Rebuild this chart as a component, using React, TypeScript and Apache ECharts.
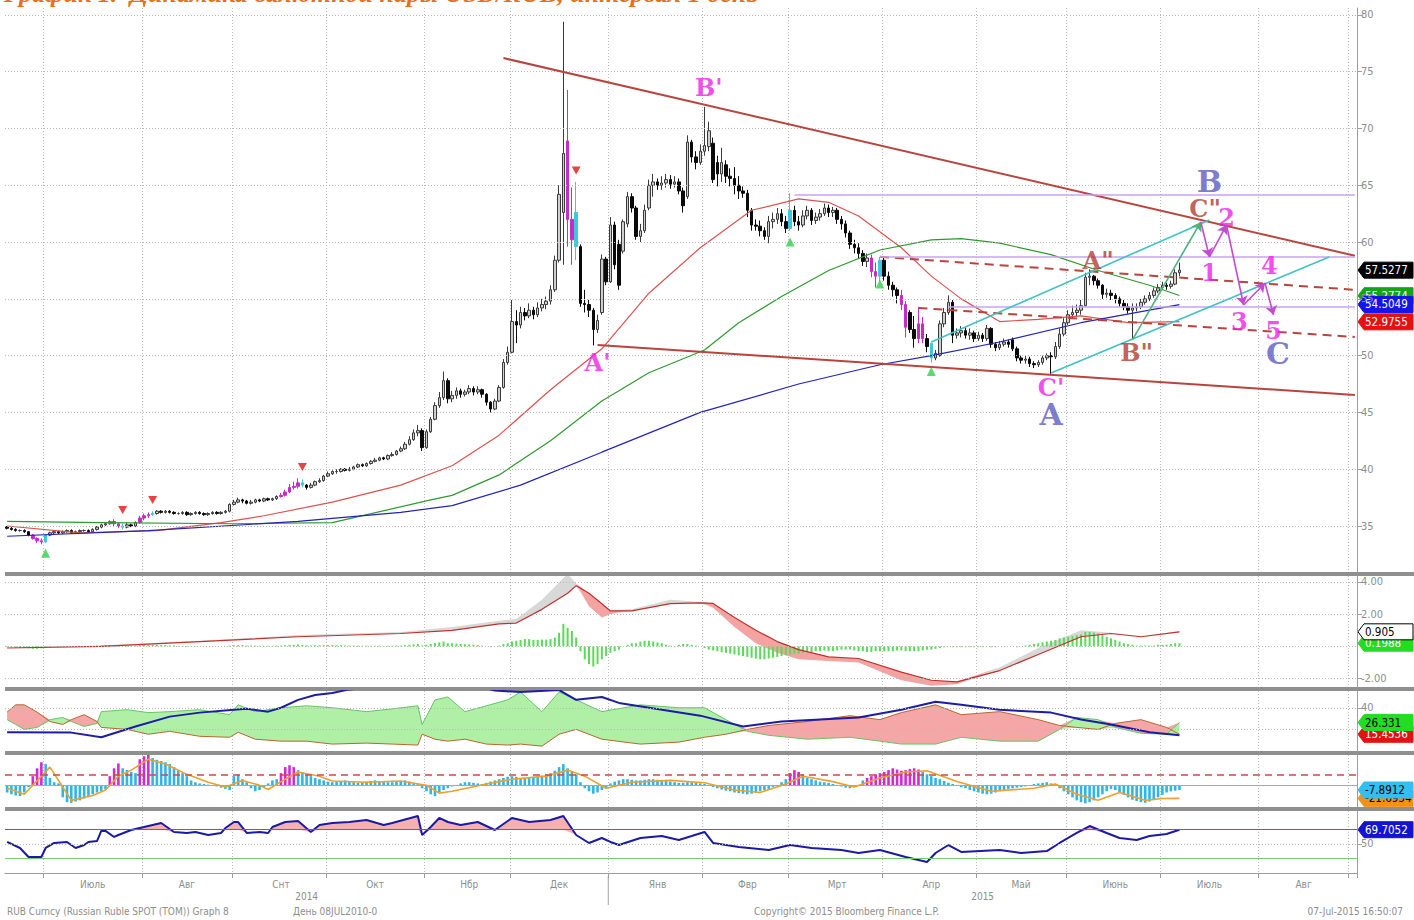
import React, { useEffect, useRef } from 'react';
import * as echarts from 'echarts';

// ---------- categories / labels ----------
const MONTH_NAMES = ['Янв', 'Фвр', 'Мрт', 'Апр', 'Май', 'Июнь', 'Июль', 'Авг', 'Снт', 'Окт', 'Нбр', 'Дек'];
const FIRST_DAY = Date.UTC(2014, 5, 18);
const DAY_SLOTS = 316;
const TITLE = 'График 1.  Динамика валютной пары USD/RUB, интервал 1 день';
const FOOTER_LEFT = 'RUB Curncy (Russian Ruble SPOT (TOM)) Graph 8';
const FOOTER_MID = 'День 08JUL2010-0';
const FOOTER_COPY = 'Copyright© 2015 Bloomberg Finance L.P.';
const FOOTER_TIME = '07-Jul-2015 16:50:07';

const PRICE_TICKS = [35, 40, 45, 50, 55, 60, 65, 70, 75, 80];
const MACD_TICKS = [-2, 2, 4];
const DMI_TICKS = [40];
const RSI_TICKS = [50];

// ---------- daily candles [open, close, low, high] ----------
const candles = [
  [34.9,34.8,34.7,35.0],[34.8,34.7,34.6,34.9],[34.7,34.6,34.5,34.8],[34.6,34.6,34.5,34.7],[34.6,34.5,34.4,34.7],[34.5,34.2,34.1,34.5],[34.2,33.9,33.8,34.3],[33.9,33.7,33.5,34.0],[33.7,33.6,33.4,33.9],
  [33.6,34.2,33.5,34.3],[34.2,34.4,34.1,34.5],[34.4,34.5,34.3,34.6],[34.5,34.4,34.3,34.6],[34.4,34.5,34.3,34.6],[34.5,34.6,34.4,34.7],[34.6,34.4,34.3,34.7],[34.4,34.5,34.3,34.6],[34.5,34.6,34.4,34.7],[34.6,34.6,34.5,34.7],[34.6,34.5,34.4,34.7],[34.5,34.7,34.4,34.8],[34.7,34.9,34.6,35.0],[34.9,35.1,34.8,35.2],[35.1,35.2,35.0,35.3],[35.2,35.4,35.1,35.5],[35.4,35.2,35.0,35.6],[35.2,35.0,34.8,35.3],[35.0,34.9,34.7,35.2],[34.9,35.1,34.8,35.3],[35.1,35.0,34.9,35.2],[35.0,35.3,34.9,35.4],[35.3,35.7,35.2,35.9],
  [35.7,35.9,35.5,36.1],[35.9,36.0,35.7,36.2],[36.0,36.1,35.9,36.3],[36.1,36.3,36.0,36.4],[36.3,36.2,36.1,36.4],[36.2,36.3,36.1,36.4],[36.3,36.2,36.1,36.4],[36.2,36.1,36.0,36.3],[36.1,36.1,36.0,36.2],[36.1,36.2,36.0,36.3],[36.2,36.0,35.9,36.3],[36.0,36.1,35.9,36.2],[36.1,36.2,36.0,36.3],[36.2,36.1,36.0,36.3],[36.1,36.0,35.9,36.2],[36.0,36.1,35.9,36.2],[36.1,36.2,36.0,36.3],[36.2,36.1,36.0,36.3],[36.1,36.2,36.0,36.3],[36.2,36.3,36.1,36.4],[36.3,36.9,36.2,37.0],
  [36.9,37.1,36.8,37.3],[37.1,37.3,37.0,37.5],[37.3,37.2,37.0,37.4],[37.2,37.0,36.9,37.3],[37.0,37.1,36.9,37.3],[37.1,37.3,37.0,37.4],[37.3,37.2,37.1,37.4],[37.2,37.4,37.1,37.5],[37.4,37.3,37.2,37.5],[37.3,37.4,37.2,37.5],[37.4,37.6,37.3,37.7],[37.6,37.7,37.5,37.9],[37.7,38.0,37.6,38.2],[38.0,38.4,37.9,38.7],[38.4,38.5,38.2,38.9],[38.5,38.8,38.3,39.2],[38.8,38.6,38.4,39.1],[38.6,38.4,38.2,38.7],[38.4,38.6,38.3,38.8],[38.6,38.9,38.5,39.0],[38.9,39.0,38.8,39.2],[39.0,39.4,38.9,39.5],
  [39.4,39.6,39.3,39.8],[39.6,39.8,39.5,39.9],[39.8,39.8,39.6,40.0],[39.8,40.0,39.7,40.1],[40.0,39.9,39.8,40.1],[39.9,40.0,39.8,40.2],[40.0,40.2,39.9,40.3],[40.2,40.4,40.1,40.5],[40.4,40.3,40.2,40.5],[40.3,40.5,40.2,40.6],[40.5,40.7,40.4,40.8],[40.7,40.8,40.6,41.0],[40.8,41.0,40.7,41.1],[41.0,40.9,40.8,41.1],[40.9,41.2,40.8,41.3],[41.2,41.3,41.1,41.5],[41.3,41.6,41.2,41.7],[41.6,41.8,41.5,42.0],[41.8,42.2,41.7,42.4],[42.2,42.6,42.1,42.9],[42.6,43.2,42.5,43.5],[43.2,43.4,42.9,43.9],[43.4,41.9,41.6,43.6],
  [41.9,43.3,41.8,43.5],[43.3,44.4,43.2,44.6],[44.4,45.6,44.3,45.9],[45.6,46.3,45.4,46.8],[46.3,47.8,46.1,48.6],[47.8,46.2,45.8,48.0],[46.2,46.5,45.9,46.9],[46.5,46.9,46.2,47.2],[46.9,46.6,46.3,47.1],[46.6,46.8,46.4,47.0],[46.8,47.1,46.6,47.4],[47.1,46.8,46.5,47.3],[46.8,47.0,46.6,47.3],[47.0,46.6,46.3,47.1],[46.6,45.9,45.6,46.7],[45.9,45.3,45.0,46.0],[45.3,46.0,45.2,46.2],[46.0,47.2,45.9,47.4],[47.2,49.4,47.1,49.7],[49.4,50.3,49.2,50.8],
  [50.3,53.0,50.2,54.9],[53.0,52.7,51.1,54.0],[52.7,53.8,52.4,54.3],[53.8,53.5,53.1,54.2],[53.5,54.0,53.3,54.6],[54.0,53.6,53.2,54.3],[53.6,54.2,53.4,54.7],[54.2,54.5,53.9,55.0],[54.5,54.8,54.1,55.2],[54.8,55.8,54.5,56.2],[55.8,58.4,55.6,58.8],[58.4,64.2,58.2,65.0],[62.6,67.8,58.0,79.4],[68.9,62.0,59.6,73.4],[62.0,60.2,58.0,64.8],[62.6,59.6,58.4,65.3],[59.6,54.6,54.3,59.8],[54.6,54.5,53.8,55.8],[54.5,54.0,53.4,54.9],[54.0,52.3,50.9,54.2],[52.3,53.1,52.0,53.6],[53.8,58.5,53.6,58.9],[58.5,56.5,56.2,58.7],
  [56.5,61.5,56.4,62.2],[61.5,58.0,57.6,61.8],[59.8,56.2,55.8,60.2],[59.2,61.8,59.0,62.0],[61.6,64.0,61.3,64.4],[64.0,63.0,62.6,64.3],[63.0,60.5,60.2,63.2],[60.5,61.0,60.0,61.6],[61.0,62.8,60.8,63.3],[63.0,65.0,62.8,65.5],[65.0,65.3,64.0,66.0],[65.3,65.0,64.6,65.6],[65.0,65.2,64.6,65.8],[65.2,65.5,64.8,66.0],[65.5,65.1,64.7,65.9],[65.1,65.3,64.8,65.8],[65.3,64.5,64.2,65.6],[64.5,63.2,62.6,64.8],[64.0,68.8,63.8,69.4],[68.8,67.5,67.0,69.0],[67.5,67.0,66.4,68.0],[67.0,68.0,66.8,68.6],
  [68.0,68.5,67.6,71.9],[68.4,69.8,68.0,70.6],[68.7,65.5,65.2,69.2],[67.0,66.0,64.9,67.6],[66.0,67.0,65.3,68.3],[66.8,65.8,65.2,67.2],[65.8,65.6,64.9,66.5],[65.6,65.0,64.2,66.6],[65.0,64.5,63.8,65.8],[64.5,64.3,63.9,64.9],[64.3,62.8,62.2,64.6],[62.8,61.5,61.0,63.0],[61.5,61.4,61.0,62.0],[61.4,61.0,60.5,61.9],[61.0,60.5,60.2,61.3],[60.5,61.8,59.9,62.3],[61.8,62.0,61.2,62.6],[62.0,62.5,61.6,63.0],[62.5,61.8,61.4,62.9],[61.8,61.2,60.8,62.3],
  [61.2,62.8,61.0,64.3],[62.8,61.8,61.4,63.2],[61.8,61.5,61.0,62.3],[61.5,62.3,61.3,62.8],[62.3,62.8,62.0,63.2],[62.8,61.9,61.5,63.0],[61.9,62.2,61.6,62.6],[62.2,62.5,61.9,62.9],[62.5,63.0,62.3,63.4],[63.0,62.6,62.2,63.3],[62.6,62.8,62.2,63.1],[62.8,62.0,61.6,63.0],[62.0,61.6,61.1,62.3],[61.6,60.8,60.4,61.9],[60.8,59.8,59.4,61.0],[59.8,59.5,59.0,60.2],[59.5,59.0,58.5,59.9],[59.0,58.3,57.9,59.3],[58.3,58.6,57.8,59.0],[58.6,57.4,56.9,58.9],[57.4,57.0,56.0,58.2],[57.0,58.4,56.5,58.7],
  [58.4,57.0,56.6,58.6],[57.0,56.2,55.8,57.4],[56.2,55.8,55.2,56.5],[55.8,55.3,54.6,56.0],[55.3,54.5,54.0,55.8],[54.5,52.5,51.6,54.8],[53.8,52.3,52.0,54.0],[52.3,51.5,50.7,53.5],[51.5,52.8,51.1,54.3],[52.8,51.5,51.1,53.4],[51.5,50.8,50.3,51.9],[51.1,49.8,49.4,51.1],[49.8,50.2,49.6,50.5],[50.0,52.8,49.9,53.1],[52.8,53.8,52.5,54.2],[53.8,54.7,53.6,55.3],[54.7,51.8,51.1,54.9],[51.8,52.0,51.5,52.4],[52.0,52.2,51.6,52.6],[52.2,51.8,51.5,52.5],[51.8,52.0,51.4,52.4],[52.0,51.5,51.2,52.2],
  [51.5,51.8,51.3,52.1],[51.8,51.5,51.2,52.0],[51.5,52.4,51.3,52.7],[52.4,51.0,50.7,52.5],[51.0,50.7,50.4,51.2],[50.7,51.0,50.5,51.3],[51.0,51.2,50.8,51.5],[51.2,51.0,50.7,51.4],[51.4,50.6,50.4,51.6],[50.6,49.8,49.5,50.8],[49.8,49.6,49.3,50.0],[49.6,49.7,49.3,50.0],[49.7,49.3,49.0,49.9],[49.3,49.2,48.9,49.5],[49.2,49.4,49.0,49.6],[49.4,49.8,49.2,50.0],[49.8,50.0,49.6,50.2],[50.0,49.9,48.4,50.3],[49.9,50.8,49.7,51.2],[50.8,51.9,50.6,52.4],[51.9,52.9,51.7,53.3],
  [52.9,53.6,52.7,54.0],[53.6,53.8,53.3,54.4],[53.8,54.0,53.4,54.5],[54.0,54.4,53.6,54.9],[54.4,56.9,54.3,57.3],[56.9,57.0,56.2,57.6],[57.0,56.6,56.2,57.1],[56.6,56.2,55.9,56.8],[56.2,55.4,55.0,56.3],[55.4,55.5,55.1,55.9],[55.5,55.3,54.9,55.8],[55.3,55.0,54.6,55.5],[55.0,54.6,54.3,55.2],[54.6,54.3,54.0,54.9],[54.3,54.0,53.7,54.6],[54.0,54.2,51.4,54.6],[54.2,54.3,53.9,54.6],[54.3,54.7,54.1,55.0],[54.7,55.0,54.5,55.3],[55.0,55.3,54.8,55.6],[55.3,55.7,55.1,56.0],[55.7,56.0,55.5,56.3],
  [56.0,56.2,55.8,56.5],[56.2,56.1,55.8,56.4],[56.1,56.3,55.9,56.6],[56.3,57.3,56.2,57.6],[57.3,57.53,57.0,58.2],
];
const magentaDays = [6, 7, 8, 24, 25, 26, 31, 32, 33, 64, 65, 66, 67, 68, 131, 132, 202, 203, 209, 210, 213, 214];
const cyanDays = [9, 27, 34, 69, 133, 183, 204, 216];
const sellSignals = [[27, 36.4], [34, 37.3], [69, 40.2], [133, 66.3]];
const buySignals = [[9, 32.6], [183, 60.0], [204, 56.3], [216, 48.6]];

// moving averages [day index, value]
const maFast = [[0,35.0],[17,34.4],[35,34.6],[50,35.3],[60,35.9],[76,37.1],[92,38.6],[104,40.3],[115,43.0],[127,47.0],[139,50.6],[150,55.5],[162,59.5],[174,62.8],[185,63.8],[192,63.5],[199,62.3],[209,59.5],[216,57.0],[223,55.0],[232,53.0],[241,53.2],[251,53.5],[262,52.9],[274,53.0]];
const maMid = [[0,35.4],[22,35.3],[53,35.2],[76,35.3],[99,37.3],[104,37.7],[115,39.5],[127,42.5],[139,46.0],[150,48.5],[163,50.5],[171,52.9],[181,55.2],[192,57.5],[204,59.3],[216,60.2],[223,60.3],[232,59.9],[244,58.9],[255,57.5],[267,56.2],[274,55.3]];
const maSlow = [[0,34.1],[33,34.6],[68,35.4],[92,36.2],[104,36.8],[120,38.6],[139,41.5],[162,45.0],[185,47.5],[204,49.2],[216,50.0],[232,51.2],[251,52.9],[274,54.5]];

// annotation lines [[x1,y1],[x2,y2]] in (day index, price)
const trendSolid = [[[116, 76.2], [315, 58.8]], [[138, 50.94], [315, 46.54]]];
const trendDashed = [[[204, 58.7], [315, 55.8]], [[213.4, 54.2], [315, 51.64]]];
const levels = [[[183.5, 64.15], [315, 64.15]], [[204, 58.69], [315, 58.69]], [[220, 54.28], [315, 54.28]]];
const channel = [[[215.7, 51.2], [281.2, 61.95]], [[243.8, 48.47], [308.5, 58.69]]];
const impulse = [[262.9, 51.38], [278.8, 61.77]];
const wavePath = [[278.8, 61.77], [280.7, 58.69], [284.7, 61.5], [288.9, 54.46], [293.6, 56.4], [295.7, 53.58]];
const labelsMagenta = [["B'", 164.3, 73.6], ["A'", 137.9, 49.4], ["C'", 244.2, 47.2], ['1', 280.7, 57.3], ['2', 285.4, 62.2], ['3', 288.4, 53.0], ['4', 294.5, 57.9], ['5', 296.4, 52.2]];
const labelsBlue = [['A', 244.2, 44.8], ['B', 281.2, 65.3], ['C', 297.1, 50.2]];
const labelsRed = [['A"', 254.8, 58.4], ['B"', 263.6, 50.3], ['C"', 280.0, 63.0]];

// MACD panel
const macdIdx = [0,22,45,68,92,104,115,119,125,131,133,136,139,141,146,155,162,165,170,175,180,185,192,199,209,216,222,232,241,251,258,265,274];
const macdSignal = [-0.1,0.0,0.3,0.6,0.8,1.0,1.4,1.45,2.3,3.3,3.77,3.3,2.65,2.2,2.2,2.65,2.7,2.67,1.8,1.0,0.3,-0.2,-0.65,-0.75,-1.6,-2.1,-2.2,-1.5,-0.5,0.6,0.8,0.6,0.9];
const macdFast = [-0.1,0.05,0.35,0.7,0.9,1.2,1.6,1.7,2.9,4.5,3.9,2.5,1.8,2.0,2.3,2.9,2.75,2.4,1.2,0.2,-0.4,-0.8,-0.9,-1.0,-2.1,-2.45,-2.35,-1.3,-0.1,1.0,0.85,0.6,0.95];
const macdHist = [
  -0.05,-0.05,-0.08,-0.1,-0.1,-0.12,-0.15,-0.15,-0.12,
  -0.08,-0.05,0,0.02,0.03,0.03,0.02,0.02,0.03,0.03,0.02,0.03,0.05,0.06,0.08,0.08,0.06,0.04,0.03,0.04,0.04,0.05,0.08,
  0.1,0.1,0.1,0.1,0.08,0.07,0.06,0.05,0.04,0.04,0.03,0.02,0.02,0.01,0,0,0,0,0,0.01,0.05,
  0.07,0.08,0.08,0.06,0.05,0.05,0.04,0.04,0.04,0.04,0.05,0.05,0.07,0.1,0.1,0.12,0.1,0.07,0.06,0.07,0.07,0.08,
  0.08,0.08,0.07,0.07,0.06,0.05,0.05,0.05,0.04,0.04,0.04,0.04,0.04,0.03,0.04,0.04,0.05,0.05,0.07,0.1,0.13,0.15,0.05,
  0.1,0.15,0.2,0.25,0.3,0.2,0.2,0.18,0.15,0.13,0.12,0.1,0.08,0.05,0,-0.05,0,0.05,0.15,0.2,
  0.3,0.35,0.4,0.45,0.45,0.4,0.4,0.42,0.42,0.45,0.55,0.85,1.4,1.15,0.95,0.55,-0.3,-0.8,-1.1,-1.25,-1.1,-0.8,-0.6,
  -0.4,-0.3,-0.2,0,0.1,0.2,0.2,0.3,0.35,0.35,0.3,0.25,0.2,0.1,0.05,-0.05,0.1,0.15,0.15,0.1,0.05,0,
  -0.1,-0.2,-0.25,-0.3,-0.35,-0.4,-0.45,-0.5,-0.55,-0.6,-0.65,-0.7,-0.75,-0.8,-0.8,-0.75,-0.7,-0.65,-0.6,-0.55,
  -0.5,-0.45,-0.45,-0.4,-0.35,-0.35,-0.3,-0.3,-0.25,-0.3,-0.3,-0.25,-0.2,-0.2,-0.2,-0.25,-0.3,-0.3,-0.35,-0.35,-0.3,-0.3,
  -0.3,-0.3,-0.3,-0.25,-0.25,-0.3,-0.3,-0.3,-0.3,-0.25,-0.2,-0.2,-0.15,-0.1,-0.05,0,-0.05,-0.05,-0.05,-0.05,-0.05,-0.05,
  -0.05,-0.05,0,-0.05,-0.05,0,0,0,0,-0.05,0,0.05,0.1,0.15,0.2,0.25,0.3,0.35,0.4,0.5,0.55,
  0.6,0.65,0.7,0.75,0.9,0.9,0.85,0.8,0.7,0.6,0.5,0.4,0.3,0.2,0.15,0.1,0.05,0.05,0.05,0.05,0.05,0.1,
  0.1,0.1,0.15,0.2,0.2,
];

// DMI panel
const dmiIdx = [0,2,4,7,10,13,15,18,21,22,28,33,38,45,52,54,58,64,70,76,84,90,96,97,100,103,107,112,117,120,125,129,133,139,148,157,163,168,173,178,187,197,204,209,217,223,232,241,246,250,255,259,265,271,274];
const plusDI = [29,24.5,20,21.8,29,31,27.3,22.7,25.5,36.4,38.2,35.5,36.4,38.2,33.6,42.7,36.4,40,41.8,40,36.4,39,41.8,24.5,47.3,50,36.4,41.8,47.3,54.5,36.4,54.5,47.3,36.4,42.7,40,40,29,18.2,14.5,10.9,12.7,9.1,6.4,6.4,12.7,9.1,9.1,20,31,29,21.8,16.4,15.5,26.3];
const minusDI = [36,42.7,42.7,36,27.3,24.5,29,33.6,27.3,21.8,20,15.5,18.2,13.6,12.7,17.3,10.9,9.1,9.1,6.4,7.3,6.4,5.5,15.5,10.9,9.1,10.9,6.4,5.5,6.4,4.5,15.5,20,10.9,6.4,8.2,12.7,15.5,20,23.6,27.3,32.7,29,35.5,42.7,33.6,36.4,29,23.6,21.8,20,25.5,29,21.8,15.45];
const adx = [[0,17.3],[15,17],[22,12.7],[30,22.7],[38,31.8],[45,35.5],[53,38.2],[56,39],[61,36.4],[64,40],[68,47.3],[72,51.8],[76,53.6],[80,57],[96,62],[110,60],[114,56],[120,54.5],[129,56.4],[133,47.3],[139,50],[143,44.5],[162,32.7],[172,22.7],[181,27.3],[190,29.1],[199,30.9],[209,38.2],[217,45.5],[223,42.7],[232,38.2],[244,35.5],[251,29.1],[258,24.5],[267,17.3],[274,14.5]];

// momentum panel
const momHist = [
  -12,-15,-17,-18,-12,-3,15,28,38,
  35,12,5,3,-20,-28,-29,-27,-25,-22,-18,-15,-12,-10,-7,15,28,36,28,25,22,20,43,
  48,50,45,42,40,38,35,30,25,20,15,8,5,3,2,1,0,-2,-4,-6,-8,
  15,18,10,5,-5,-10,-8,-3,3,8,10,20,30,33,30,25,22,18,15,12,10,8,
  6,5,6,7,8,6,5,4,5,6,7,8,7,6,5,5,6,7,8,6,4,2,-5,
  -10,-15,-18,-12,-8,-5,-2,0,3,5,5,4,3,2,4,6,8,10,12,14,
  15,14,12,12,13,14,15,16,18,20,24,30,35,28,22,18,5,-5,-10,-14,-12,-8,-5,
  3,6,8,10,10,9,8,8,9,10,10,9,8,7,6,5,4,4,5,5,4,3,
  2,0,-3,-5,-7,-9,-10,-12,-13,-14,-15,-14,-12,-10,-8,-6,-3,0,5,10,
  20,25,22,18,12,10,8,6,5,4,2,0,-2,-4,-5,-3,0,8,12,15,18,20,
  22,25,28,26,24,25,27,28,26,22,18,15,12,10,7,4,2,0,-3,-5,-8,-10,
  -12,-14,-15,-14,-12,-10,-8,-6,-5,-4,-3,-2,0,2,3,4,5,3,0,-5,-10,
  -15,-20,-25,-28,-30,-28,-25,-20,-15,-10,-6,-8,-12,-16,-20,-24,-26,-28,-29,-27,-24,-20,
  -16,-12,-10,-9,-8,
];
const momMagentaDays = [6, 7, 8, 24, 25, 26, 31, 32, 33, 64, 65, 66, 67, 183, 184, 185, 201, 202, 203, 204, 205, 206, 207, 208, 209, 210, 211, 212, 213];
const momSignal = [[0,-5],[4,-15],[10,30],[15,-25],[20,-17],[23,-8],[26,15],[29,25],[33,43],[37,35],[42,18],[47,5],[51,-3],[55,8],[59,0],[61,-7],[65,10],[68,22],[73,15],[76,7],[84,5],[92,7],[98,0],[101,-13],[104,-10],[112,2],[118,10],[126,15],[131,25],[135,15],[140,-5],[146,5],[155,8],[163,4],[170,-8],[176,-12],[182,2],[186,15],[193,6],[198,-3],[204,12],[210,22],[215,24],[222,6],[230,-10],[240,-5],[245,2],[250,-15],[255,-25],[260,-12],[266,-25],[270,-22],[274,-21.7]];
const momLevel = 17;

// RSI panel
const rsi = [[0,52.8],[3,44.5],[5,32],[8,32],[9,44.5],[11,51.4],[14,52.8],[16,44.5],[18,48.6],[19,52.8],[21,54.1],[22,68],[23,68],[25,59.7],[26,62.4],[29,69.3],[32,73.4],[36,79],[39,66.6],[42,65.2],[44,66.6],[47,62.4],[50,65.2],[51,72],[53,80.3],[54,80.3],[56,65.2],[59,66.6],[61,65.2],[62,73.4],[65,80.3],[68,81.7],[71,66.6],[73,76.2],[76,79],[80,80.3],[84,83.1],[88,76.2],[90,79],[96,88.6],[97,62.4],[99,73.4],[101,85.9],[103,80.3],[106,76.2],[110,80.3],[114,69.3],[118,85.9],[122,80.3],[127,83.1],[130,88.6],[133,62.4],[136,51.4],[139,58.3],[141,52.8],[143,48.6],[148,58.3],[153,61],[157,55.5],[160,61],[163,66.6],[165,51.4],[171,45.9],[178,41.7],[183,48.6],[188,44.5],[195,41.7],[199,37.6],[204,41.7],[210,32],[215,25.2],[217,37.6],[220,48.6],[223,39],[232,41.7],[237,37.6],[243,40.3],[246,51.4],[250,65.2],[253,74.8],[257,65.2],[260,58.3],[264,55.5],[267,61],[271,63.8],[274,69.7]];
const RSI_HIGH = 70;
const RSI_LOW = 30;

// last-value tags
const priceTags = [
  { v: 55.2774, bg: '#17a317', fg: '#fff' },
  { v: 54.5049, bg: '#1515e8', fg: '#fff' },
  { v: 52.9755, bg: '#e31212', fg: '#fff' },
  { v: 57.5277, bg: '#000000', fg: '#fff' },
];
const macdTags = [{ v: 0.1988, bg: '#22dd22', fg: '#fff' }, { v: 0.905, bg: '#ffffff', fg: '#000', border: '#000' }];
const dmiTags = [{ v: 15.4536, bg: '#e31212', fg: '#fff' }, { v: 26.331, bg: '#22dd22', fg: '#000' }];
const momTags = [{ v: -21.6954, bg: '#f39112', fg: '#000' }, { v: -7.8912, bg: '#33bff0', fg: '#000' }];
const rsiTags = [{ v: 69.7052, bg: '#1414d0', fg: '#fff' }];

// ---------- layout / styles ----------
const NARROW = "'Liberation Sans Narrow', 'DejaVu Sans Condensed', 'Arial Narrow', sans-serif";
const SERIF = "'DejaVu Serif', 'Liberation Serif', serif";
const GRIDS = [
  { top: 8, height: 564 },
  { top: 576, height: 111 },
  { top: 691, height: 60 },
  { top: 755, height: 52 },
  { top: 811, height: 62 },
];
const Y_RANGES = [[30.95, 80.61], [-2.52, 4.37], [0, 55.5], [-36, 50], [10, 95.5]];
const DOT = { color: '#b9b9b9', type: [1, 2], width: 1 };
const MAG = '#c82bc8';
const CYAN = '#3ec8dc';

function buildCategories() {
  const out = [];
  let t = FIRST_DAY;
  while (out.length < DAY_SLOTS) {
    const d = new Date(t);
    const wd = d.getUTCDay();
    if (wd !== 0 && wd !== 6) out.push(d.toISOString().slice(0, 10));
    t += 86400000;
  }
  return out;
}

const cats = buildCategories();
const monthStarts = new Set();
const monthMids = new Set();
(() => {
  const groups = {};
  cats.forEach((c, i) => {
    const k = c.slice(0, 7);
    (groups[k] = groups[k] || []).push(i);
  });
  Object.values(groups).forEach((g: any) => {
    if (g[0] > 0) monthStarts.add(g[0]);
    if (g.length >= 15) monthMids.add(g[Math.floor(g.length / 2)]);
  });
})();

function fillBetween(k, idx, a, b, colAbove, colBelow, stack, z) {
  const common = {
    type: 'line', xAxisIndex: k, yAxisIndex: k, stack, stackStrategy: 'all', symbol: 'none', showSymbol: false,
    lineStyle: { width: 0, opacity: 0 }, z, silent: true,
  };
  return [
    { ...common, data: idx.map((x, j) => [x, Math.min(a[j], b[j])]) },
    { ...common, data: idx.map((x, j) => [x, Math.max(a[j] - b[j], 0)]), areaStyle: { color: colAbove, opacity: 1 } },
    { ...common, data: idx.map((x, j) => [x, Math.max(b[j] - a[j], 0)]), areaStyle: { color: colBelow, opacity: 1 } },
  ];
}

function line(k, data, color, width, z, extra = {}) {
  return { type: 'line', xAxisIndex: k, yAxisIndex: k, data, symbol: 'none', showSymbol: false, lineStyle: { color, width }, z, silent: true, ...extra };
}

function hLines(k, items, z) {
  return {
    type: 'line', xAxisIndex: k, yAxisIndex: k, data: [], z, silent: true,
    markLine: { silent: true, symbol: ['none', 'none'], label: { show: false }, animation: false, data: items.map(([v, style]) => ({ yAxis: v, lineStyle: style })) },
  };
}

function seg(a, b, style, arrow) {
  return [
    { coord: a, symbol: 'none', lineStyle: style },
    { coord: b, symbol: arrow ? 'arrow' : 'none', symbolSize: arrow ? 9 : 0, lineStyle: style },
  ];
}

function labelSeries(items, color, size) {
  return {
    type: 'scatter', xAxisIndex: 0, yAxisIndex: 0, symbolSize: 1, z: 8, silent: true,
    itemStyle: { color: 'transparent' },
    label: { show: true, position: 'inside', formatter: (p) => p.name, color, fontSize: size, fontWeight: 'bold', fontFamily: SERIF },
    data: items.map(([n, x, y]) => ({ name: n, value: [x, y] })),
  };
}

function buildOption() {
  const magSet = new Set(magentaDays);
  const cyanSet = new Set(cyanDays);
  const candleData = candles.map((c, i) => {
    const col = magSet.has(i) ? MAG : cyanSet.has(i) ? CYAN : null;
    if (!col) return c;
    return { value: c, itemStyle: { color: col, color0: col, borderColor: col, borderColor0: col } };
  });
  const momMag = new Set(momMagentaDays);

  const annot = [];
  trendSolid.forEach(([a, b]) => annot.push(seg(a, b, { color: '#b8443d', width: 2, type: 'solid' }, false)));
  trendDashed.forEach(([a, b]) => annot.push(seg(a, b, { color: '#b8443d', width: 2, type: [9, 6] }, false)));
  levels.forEach(([a, b]) => annot.push(seg(a, b, { color: '#c9a3f0', width: 1.5, type: 'solid' }, false)));
  channel.forEach(([a, b]) => annot.push(seg(a, b, { color: '#3fc3c3', width: 1.6, type: 'solid' }, false)));
  annot.push(seg(impulse[0], impulse[1], { color: '#4cb47a', width: 1.6, type: 'solid' }, true));
  for (let i = 0; i < wavePath.length - 1; i++) {
    annot.push(seg(wavePath[i], wavePath[i + 1], { color: '#c24bd2', width: 1.6, type: 'solid' }, true));
  }

  const rsiVals = rsi.map((p) => p[1]);
  const rsiIdx = rsi.map((p) => p[0]);

  const series = [
    // ----- main panel -----
    hLines(0, PRICE_TICKS.map((v) => [v, DOT]), 1),
    {
      type: 'candlestick', xAxisIndex: 0, yAxisIndex: 0, data: candleData, barWidth: 3, z: 3, silent: true,
      itemStyle: { color: '#cfcfcf', color0: '#0a0a0a', borderColor: '#3a3a3a', borderColor0: '#0a0a0a', borderWidth: 1 },
    },
    line(0, maFast, '#d9534f', 1.2, 4),
    line(0, maMid, '#2e9a2e', 1.2, 4),
    line(0, maSlow, '#2323b4', 1.2, 4),
    {
      type: 'line', xAxisIndex: 0, yAxisIndex: 0, data: [], z: 5, silent: true,
      markLine: { silent: true, symbol: ['none', 'none'], label: { show: false }, animation: false, data: annot },
    },
    { type: 'scatter', xAxisIndex: 0, yAxisIndex: 0, data: sellSignals, symbol: 'triangle', symbolRotate: 180, symbolSize: [9, 8], itemStyle: { color: '#e01414' }, z: 6, silent: true },
    { type: 'scatter', xAxisIndex: 0, yAxisIndex: 0, data: buySignals, symbol: 'triangle', symbolSize: [9, 9], itemStyle: { color: '#2fd14a' }, z: 6, silent: true },
    labelSeries(labelsMagenta, '#f01fe6', 24),
    labelSeries(labelsBlue, '#5b5bc4', 30),
    labelSeries(labelsRed, '#b23a2c', 24),

    // ----- MACD -----
    hLines(1, [[4, DOT], [2, DOT], [0, DOT], [-2, DOT]], 1),
    ...fillBetween(1, macdIdx, macdFast, macdSignal, '#d8d8d8', '#f4a3a3', 'macd', 2),
    { type: 'bar', xAxisIndex: 1, yAxisIndex: 1, data: macdHist, barWidth: 2, itemStyle: { color: '#58dc58' }, z: 3, silent: true },
    line(1, macdIdx.map((x, j) => [x, macdSignal[j]]), '#c0302c', 1.2, 4),

    // ----- DMI -----
    hLines(2, [[40, DOT], [20, DOT]], 1),
    ...fillBetween(2, dmiIdx, plusDI, minusDI, '#aff0a6', '#f5a7a7', 'dmi', 2),
    line(2, dmiIdx.map((x, j) => [x, plusDI[j]]), '#66c466', 1, 3),
    line(2, dmiIdx.map((x, j) => [x, minusDI[j]]), '#b8652e', 1, 3),
    line(2, adx, '#1c1ca6', 2, 4),

    // ----- momentum -----
    hLines(3, [[0, { color: '#a8a8a8', width: 1, type: 'solid' }], [momLevel, { color: '#d04848', width: 1.5, type: [7, 5] }]], 1),
    {
      type: 'bar', xAxisIndex: 3, yAxisIndex: 3, barWidth: 2.6, z: 3, silent: true,
      data: momHist.map((v, i) => ({ value: v, itemStyle: { color: momMag.has(i) ? '#d22ad2' : '#33b4e6' } })),
    },
    line(3, momSignal, '#f0a02a', 1.6, 4),

    // ----- RSI -----
    hLines(4, [[50, DOT], [RSI_HIGH, { color: '#c94040', width: 1, type: 'solid' }], [RSI_LOW, { color: '#70d070', width: 1.2, type: 'solid' }]], 1),
    ...fillBetween(4, rsiIdx, rsiVals, rsiIdx.map(() => RSI_HIGH), '#f7b0b0', 'rgba(0,0,0,0)', 'rsi', 2).slice(0, 2),
    line(4, rsi, '#1a1aa3', 2, 4),
  ];

  return {
    animation: false,
    backgroundColor: '#ffffff',
    grid: GRIDS.map((g) => ({ left: 5, right: 57, top: g.top, height: g.height, containLabel: false })),
    xAxis: GRIDS.map((g, k) => ({
      type: 'category', gridIndex: k, data: cats, boundaryGap: true,
      axisLine: { show: k === 4, lineStyle: { color: '#9d9d9d' } },
      axisTick: { show: k === 4, interval: (i) => monthStarts.has(i), length: 5, lineStyle: { color: '#9d9d9d' } },
      axisLabel: {
        show: k === 4, interval: (i) => monthMids.has(i), color: '#8e8e8e', fontSize: 10, fontFamily: NARROW, margin: 6,
        formatter: (v) => MONTH_NAMES[Number(v.slice(5, 7)) - 1],
      },
      splitLine: { show: true, interval: (i) => monthStarts.has(i), lineStyle: DOT },
    })),
    yAxis: GRIDS.map((g, k) => {
      const ticks = [PRICE_TICKS, MACD_TICKS, DMI_TICKS, [], RSI_TICKS][k];
      return {
        type: 'value', gridIndex: k, position: 'right', min: Y_RANGES[k][0], max: Y_RANGES[k][1],
        axisLine: { show: true, lineStyle: { color: '#9d9d9d' } },
        axisTick: { show: true, customValues: ticks, length: 5, inside: false, lineStyle: { color: '#9d9d9d' } },
        axisLabel: {
          show: true, customValues: ticks, color: '#8e8e8e', fontSize: 11, fontFamily: NARROW, margin: 4,
          formatter: (v) => (k === 1 ? Number(v).toFixed(2) : String(v)),
        },
        splitLine: { show: false },
      };
    }),
    series,
  };
}

function tagShape(yc, t) {
  const x0 = 1358;
  return {
    type: 'group',
    children: [
      {
        type: 'polygon',
        shape: { points: [[x0, yc], [x0 + 6, yc - 8], [1413, yc - 8], [1413, yc + 8], [x0 + 6, yc + 8]] },
        style: { fill: t.bg, stroke: t.border || t.bg, lineWidth: 1 },
      },
      {
        type: 'text', x: x0 + 7, y: yc,
        style: { text: String(t.v), fill: t.fg, fontSize: 11.5, fontFamily: NARROW, verticalAlign: 'middle', align: 'left' },
      },
    ],
  };
}

function buildGraphics(chart) {
  const px = (i) => chart.convertToPixel({ xAxisIndex: 4 }, i);
  const py = (k, v) => chart.convertToPixel({ yAxisIndex: k }, v);
  const band = px(1) - px(0);
  const left = px(0) - band / 2;
  const right = px(cats.length - 1) + band / 2;
  const janIdx = cats.findIndex((c) => c.startsWith('2015'));
  const janX = px(janIdx) - band / 2;
  const g = [];

  g.push({
    type: 'text', x: 4, y: 6,
    style: { text: TITLE, fill: '#e8701a', fontSize: 26, fontWeight: 'bold', fontStyle: 'italic', fontFamily: "'Liberation Serif', 'DejaVu Serif', serif", verticalAlign: 'bottom' },
  });
  [572, 687, 751, 807].forEach((y) => g.push({ type: 'rect', shape: { x: 5, y, width: 1409, height: 4 }, style: { fill: '#8f8f8f' } }));

  g.push({ type: 'line', shape: { x1: janX, y1: 876, x2: janX, y2: 905 }, style: { stroke: '#a0a0a0', lineWidth: 1 } });
  g.push({ type: 'text', x: (left + janX) / 2, y: 896, style: { text: '2014', fill: '#8e8e8e', fontSize: 10, fontFamily: NARROW, align: 'center', verticalAlign: 'middle' } });
  g.push({ type: 'text', x: (janX + right) / 2, y: 896, style: { text: '2015', fill: '#8e8e8e', fontSize: 10, fontFamily: NARROW, align: 'center', verticalAlign: 'middle' } });

  const foot = { fill: '#8e8e8e', fontSize: 10, fontFamily: NARROW, verticalAlign: 'middle' };
  g.push({ type: 'text', x: 7, y: 911, style: { ...foot, text: FOOTER_LEFT, align: 'left' } });
  g.push({ type: 'text', x: 293, y: 911, style: { ...foot, text: FOOTER_MID, align: 'left' } });
  g.push({ type: 'text', x: 754, y: 911, style: { ...foot, text: FOOTER_COPY, align: 'left' } });
  g.push({ type: 'text', x: 1403, y: 911, style: { ...foot, text: FOOTER_TIME, align: 'right' } });

  priceTags.forEach((t) => g.push(tagShape(py(0, t.v), t)));
  macdTags.forEach((t) => g.push(tagShape(py(1, t.v), t)));
  dmiTags.forEach((t) => g.push(tagShape(py(2, t.v), t)));
  momTags.forEach((t) => g.push(tagShape(py(3, t.v), t)));
  rsiTags.forEach((t) => g.push(tagShape(py(4, t.v), t)));
  return g;
}

export default function App() {
  const ref = useRef(null);
  useEffect(() => {
    const chart = echarts.init(ref.current, null, { renderer: 'svg' });
    chart.setOption(buildOption());
    chart.setOption({ graphic: buildGraphics(chart) });
    return () => chart.dispose();
  }, []);
  return <div ref={ref} style={{ position: 'absolute', left: 0, top: 0, width: 1414, height: 920, background: '#fff' }} />;
}
